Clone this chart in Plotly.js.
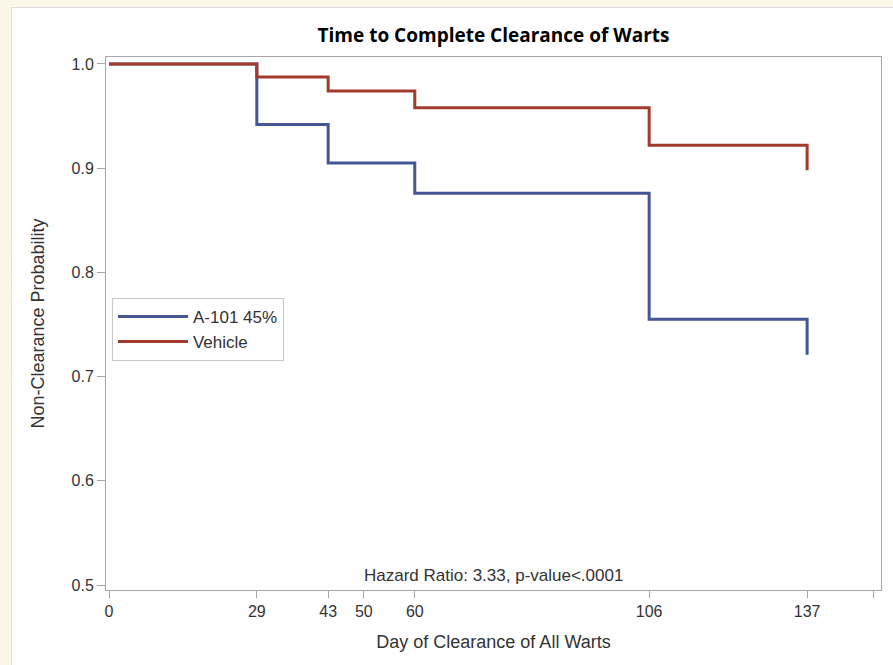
<!DOCTYPE html>
<html>
<head>
<meta charset="utf-8">
<script src="https://cdn.plot.ly/plotly-3.0.1.min.js"></script>
<style>
  html, body { margin: 0; padding: 0; background: #fbf8ea; width: 893px; height: 665px; overflow: hidden; }
  #chart { position: absolute; left: 11px; top: 7px; width: 882px; height: 658px;
           border-left: 1px solid #dedede; border-top: 1px solid #dedede; background: #fff; }
</style>
</head>
<body>
<div id="chart"></div>
<script>
const days = [0, 29, 43, 60, 106, 137];
const a101 = [1.0, 0.942, 0.905, 0.876, 0.755, 0.721];
const vehicle = [1.0, 0.9875, 0.974, 0.958, 0.922, 0.898];
const seriesNames = ['A-101 45%', 'Vehicle'];
const xTickVals = [0, 29, 43, 50, 60, 106, 137, 150];
const xTickText = ['0', '29', '43', '50', '60', '106', '137', ''];
const yTickVals = [0.5, 0.6, 0.7, 0.8, 0.9, 1.0];
const yTickText = ['0.5', '0.6', '0.7', '0.8', '0.9', '1.0'];

const font = 'Arial, "Liberation Sans", Helvetica, sans-serif';

const traces = [
  { x: days, y: a101, name: seriesNames[0], type: 'scatter', mode: 'lines',
    line: { shape: 'hv', color: '#445694', width: 3 } },
  { x: days, y: vehicle, name: seriesNames[1], type: 'scatter', mode: 'lines',
    line: { shape: 'hv', color: '#a23a2e', width: 3 } }
];

const layout = {
  width: 882, height: 658,
  margin: { l: 94, r: 13, t: 49, b: 76 },
  paper_bgcolor: '#ffffff', plot_bgcolor: '#ffffff',
  font: { family: font, size: 16, color: '#333333' },
  title: { text: '<b>Time to Complete Clearance of Warts</b>', xref: 'paper', x: 0.5, xanchor: 'center',
           yref: 'container', y: 0.959, yanchor: 'middle',
           font: { family: '"Open Sans", Arial, sans-serif', size: 19, color: '#000000' } },
  xaxis: {
    range: [-0.6, 151.5], tickmode: 'array', tickvals: xTickVals, ticktext: xTickText,
    showgrid: false, zeroline: false, showline: true, mirror: true, linecolor: '#a6a6a6', linewidth: 1,
    ticks: 'outside', ticklen: 7, tickcolor: '#a6a6a6', tickfont: { size: 16, color: '#333333' },
    title: { text: 'Day of Clearance of All Warts', standoff: 16, font: { size: 18, color: '#333333' } }
  },
  yaxis: {
    range: [0.4952, 1.0067], tickmode: 'array', tickvals: yTickVals, ticktext: yTickText,
    showgrid: false, zeroline: false, showline: true, mirror: true, linecolor: '#a6a6a6', linewidth: 1,
    ticks: 'outside', ticklen: 8, tickcolor: '#a6a6a6', tickfont: { size: 16, color: '#333333' },
    title: { text: 'Non-Clearance Probability', standoff: 22, font: { size: 18, color: '#333333' } }
  },
  legend: {
    x: 0.0077, y: 0.548, xanchor: 'left', yanchor: 'top',
    bgcolor: '#ffffff', bordercolor: '#c8c8c8', borderwidth: 1,
    font: { size: 17, color: '#333333' }, itemwidth: 70, tracegroupgap: 0
  },
  annotations: [
    { text: 'Hazard Ratio: 3.33, p-value<.0001', xref: 'paper', yref: 'paper', x: 0.5, y: 0.0263,
      xanchor: 'center', yanchor: 'middle', showarrow: false, font: { size: 17, color: '#333333' } }
  ],
  showlegend: true
};

Plotly.newPlot('chart', traces, layout, { displayModeBar: false, staticPlot: true });
</script>
</body>
</html>
